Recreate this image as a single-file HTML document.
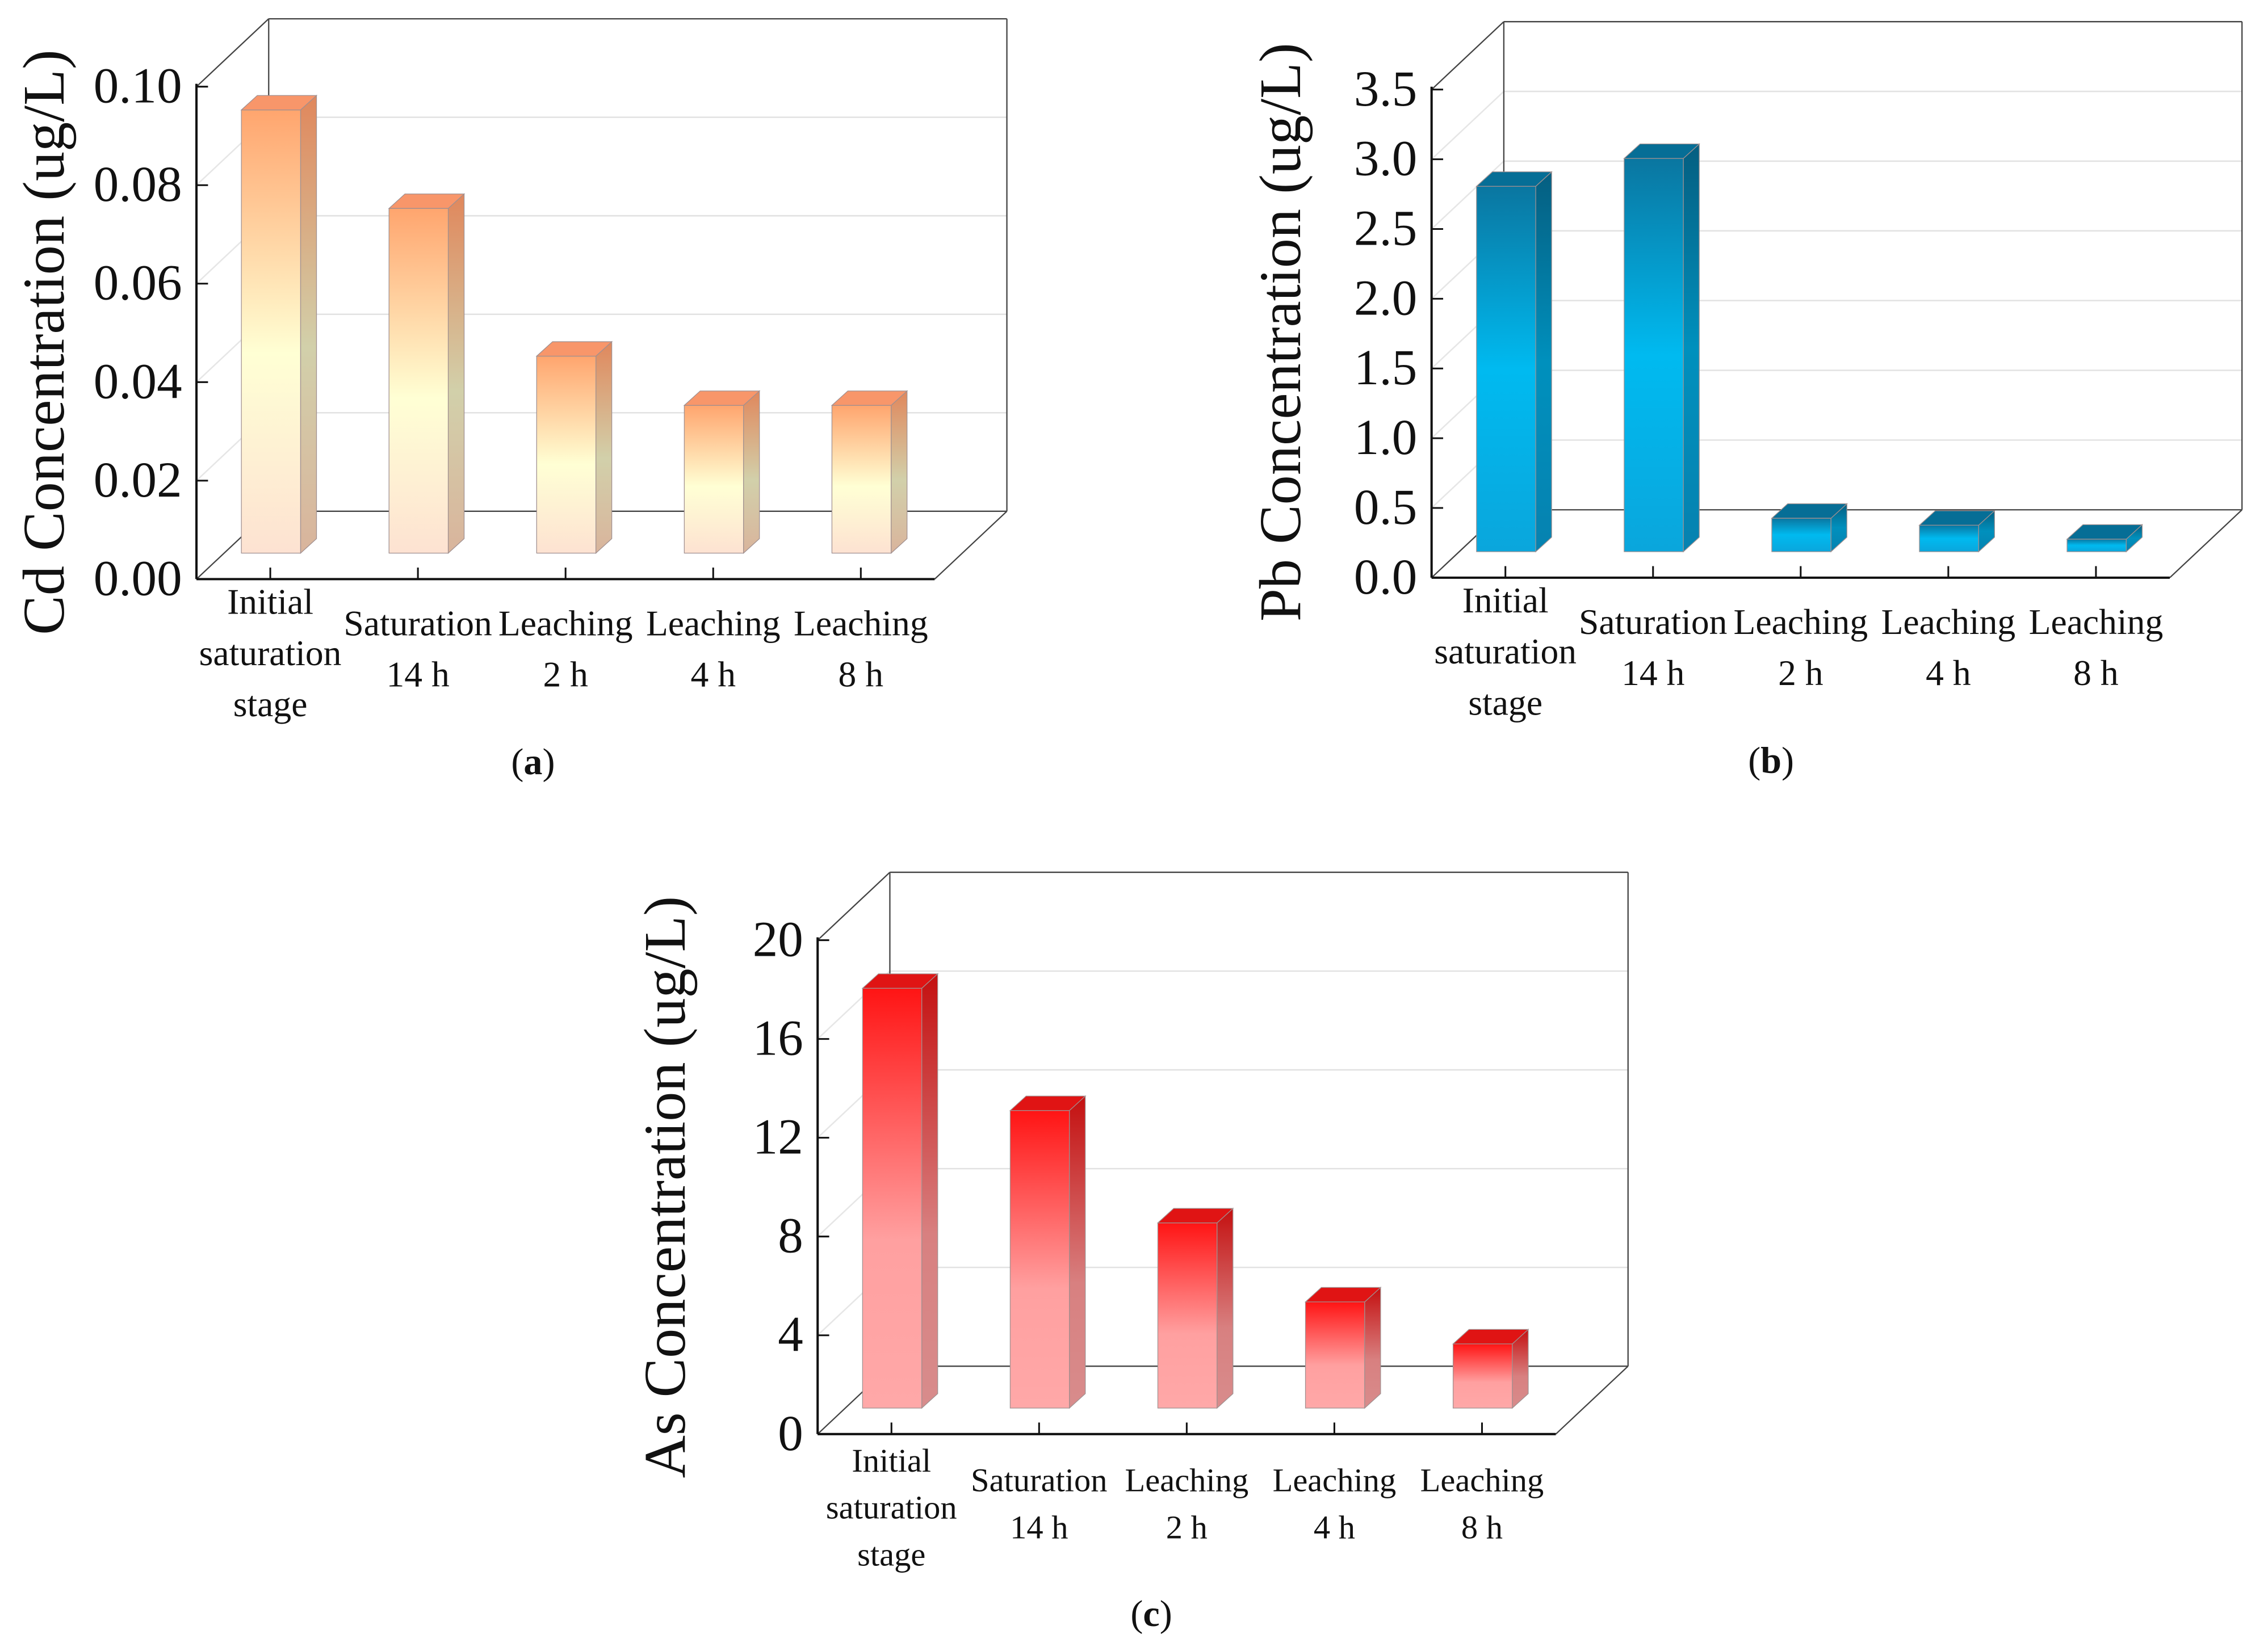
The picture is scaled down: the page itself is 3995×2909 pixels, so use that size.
<!DOCTYPE html>
<html><head><meta charset="utf-8"><style>
html,body{margin:0;padding:0;background:#fff}
svg{display:block}
text{font-family:"Liberation Serif",serif;fill:#111}
</style></head><body>
<svg id="chart" width="3995" height="2909" viewBox="0 0 1570 1143.2" xmlns="http://www.w3.org/2000/svg">
<defs>
<linearGradient id="gaF" x1="0" y1="0" x2="0" y2="1"><stop offset="0" stop-color="#ffa56e"/><stop offset="0.55" stop-color="#ffffd4"/><stop offset="1" stop-color="#fde2d2"/></linearGradient>
<linearGradient id="gaS" x1="0" y1="0" x2="0" y2="1"><stop offset="0" stop-color="#e0875c"/><stop offset="0.55" stop-color="#d2d0aa"/><stop offset="1" stop-color="#d9b49c"/></linearGradient>
<linearGradient id="gbF" x1="0" y1="0" x2="0" y2="1"><stop offset="0" stop-color="#0a76a0"/><stop offset="0.5" stop-color="#00baf0"/><stop offset="1" stop-color="#0aa6dc"/></linearGradient>
<linearGradient id="gbS" x1="0" y1="0" x2="0" y2="1"><stop offset="0" stop-color="#055e80"/><stop offset="0.5" stop-color="#0090bd"/><stop offset="1" stop-color="#0682b0"/></linearGradient>
<linearGradient id="gcF" x1="0" y1="0" x2="0" y2="1"><stop offset="0" stop-color="#ff1414"/><stop offset="0.6" stop-color="#ffa0a0"/><stop offset="1" stop-color="#ffa8a8"/></linearGradient>
<linearGradient id="gcS" x1="0" y1="0" x2="0" y2="1"><stop offset="0" stop-color="#c41010"/><stop offset="0.6" stop-color="#d88080"/><stop offset="1" stop-color="#d88c8c"/></linearGradient>
</defs>
</svg>
<script>
const categoriesA = [["Initial","saturation","stage"],["Saturation","14 h"],["Leaching","2 h"],["Leaching","4 h"],["Leaching","8 h"]];
const valuesCd = [0.09, 0.07, 0.04, 0.03, 0.03];
const valuesPb = [2.62, 2.82, 0.24, 0.19, 0.09];
const valuesAs = [17.0, 12.05, 7.5, 4.3, 2.6];
const ticksCd = ["0.00","0.02","0.04","0.06","0.08","0.10"];
const ticksPb = ["0.0","0.5","1.0","1.5","2.0","2.5","3.0","3.5"];
const ticksAs = ["0","4","8","12","16","20"];
const tickValsCd = [0,0.02,0.04,0.06,0.08,0.10];
const tickValsPb = [0,0.5,1,1.5,2,2.5,3,3.5];
const tickValsAs = [0,4,8,12,16,20];

const svg = document.getElementById('chart');
const NS = 'http://www.w3.org/2000/svg';
function mk(tag, attrs, parent){const e=document.createElementNS(NS,tag);for(const k in attrs)e.setAttribute(k,attrs[k]);(parent||svg).appendChild(e);return e;}

function panel(p){
  const g = mk('g',{});
  
  
  const x0=p.x0, yB=p.yB, W=511, dx=50, dy=-47, H=p.H, max=p.max;
  const yS = v => yB - v/max*H;
  p.tickVals.forEach((v,i)=>{
    const y=yS(v);
    if(i>0){
      const gl=mk('line',{x1:x0+dx,y1:y+dy,x2:x0+dx+W,y2:y+dy,stroke:'#e2e2e2','stroke-width':1},g);
      
      
      mk('line',{x1:x0,y1:y,x2:x0+dx,y2:y+dy,stroke:'#e6e6e6','stroke-width':1},g);
    }
  });
  const topY=yS(max);
  const box=[[x0,topY,x0+dx,topY+dy],[x0+dx,topY+dy,x0+dx+W,topY+dy],[x0+dx,topY+dy,x0+dx,yB+dy],[x0+dx+W,topY+dy,x0+dx+W,yB+dy],
    [x0+dx,yB+dy,x0+dx+W,yB+dy],[x0,yB,x0+dx,yB+dy],[x0+W,yB,x0+W+dx,yB+dy]];
  box.forEach(b=>mk('line',{x1:b[0],y1:b[1],x2:b[2],y2:b[3],stroke:'#444','stroke-width':0.9},g));
  const step=W/5, bw=41, bdx=11, bdy=-10, base=yB-18;
  const scale = H/max;
  p.values.forEach((v,i)=>{
    const cx=x0+step*(i+0.5);
    const l=cx-20, r=l+bw, t=base - v*scale;
    const bar=mk('g',{},g);
    
    
    mk('rect',{x:l,y:t,width:bw,height:base-t,fill:'url(#'+p.grad+'F)',stroke:'#a09090','stroke-width':0.5},bar);
    mk('polygon',{points:`${r},${t} ${r+bdx},${t+bdy} ${r+bdx},${base+bdy} ${r},${base}`,fill:'url(#'+p.grad+'S)',stroke:'#a09090','stroke-width':0.5},bar);
    mk('polygon',{points:`${l},${t} ${l+bdx},${t+bdy} ${r+bdx},${t+bdy} ${r},${t}`,fill:p.cap,stroke:'#a09090','stroke-width':0.5},bar);
    mk('line',{x1:cx,y1:yB,x2:cx,y2:yB-8,stroke:'#111','stroke-width':1.2},g);
    const lines=p.cats[i];
    const y0 = lines.length===3 ? p.ly : p.ly+p.lh*0.42;
    lines.forEach((s,j)=>{
      const t2=mk('text',{x:cx,y:y0+j*p.lh,'text-anchor':'middle','font-size':p.fs},g);
      t2.textContent=s;
      
      
    });
  });
  mk('line',{x1:x0,y1:topY-2,x2:x0,y2:yB,stroke:'#111','stroke-width':1.6},g);
  mk('line',{x1:x0,y1:yB,x2:x0+W,y2:yB,stroke:'#111','stroke-width':1.6},g);
  p.tickVals.forEach((v,i)=>{
    const y=yS(v);
    mk('line',{x1:x0,y1:y,x2:x0+8,y2:y,stroke:'#111','stroke-width':1.2},g);
    const t=mk('text',{x:x0-10,y:y+11,'text-anchor':'end','font-size':p.tfs},g);
    t.textContent=p.ticks[i];
    
    
  });
  const yt=mk('text',{x:0,y:0,'text-anchor':'middle','font-size':p.ttl,transform:`translate(${p.titleX},${p.titleY}) rotate(-90)`},g);
  yt.textContent=p.title;
  
  
  const cap=mk('text',{x:p.capX,y:p.capY,'text-anchor':'middle','font-size':26},g);
  cap.innerHTML='(<tspan font-weight="bold">'+p.letter+'</tspan>)';
  
  
}

panel({name:'panel-a-cd',x0:136,yB:401,H:341,max:0.10,values:valuesCd,ticks:ticksCd,tickVals:tickValsCd,cats:categoriesA,
  grad:'ga',cap:'#f8966a',ly:425,lh:35.5,fs:25,tfs:35,ttl:41,title:'Cd Concentration (ug/L)',titleX:44,titleY:237,capX:369,capY:536,letter:'a'});
panel({name:'panel-b-pb',x0:991,yB:400,H:338,max:3.5,values:valuesPb,ticks:ticksPb,tickVals:tickValsPb,cats:categoriesA,
  grad:'gb',cap:'#066e96',ly:424,lh:35.5,fs:25,tfs:35,ttl:41,title:'Pb Concentration (ug/L)',titleX:900,titleY:230,capX:1226,capY:535,letter:'b'});
panel({name:'panel-c-as',x0:566,yB:993,H:342,max:20,values:valuesAs,ticks:ticksAs,tickVals:tickValsAs,cats:categoriesA,
  grad:'gc',cap:'#e01414',ly:1019,lh:32.5,fs:23,tfs:35,ttl:41,title:'As Concentration (ug/L)',titleX:474,titleY:822,capX:797,capY:1126,letter:'c'});
</script>
</body></html>
